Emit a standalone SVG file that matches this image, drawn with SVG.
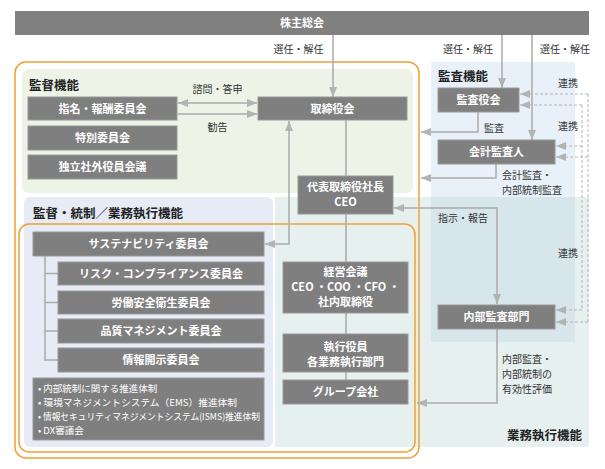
<svg xmlns="http://www.w3.org/2000/svg" width="605" height="469" viewBox="0 0 605 469">
<defs>
<style>
.box{fill:#7f7f7f;stroke:#9a9a9a;stroke-width:1}
.nt{font-family:"Noto Sans CJK JP","Noto Sans",sans-serif;font-size:11px;fill:#ffffff;text-anchor:middle;font-weight:bold}
.bt{font-family:"Noto Sans CJK JP","Noto Sans",sans-serif;font-size:9.5px;fill:#ffffff}
.lb{font-family:"Noto Sans CJK JP","Noto Sans",sans-serif;font-size:10px;fill:#333333}
.ttl{font-family:"Noto Sans CJK JP","Noto Sans",sans-serif;font-size:12.5px;fill:#222222;font-weight:bold}
.ln{fill:none;stroke:#aaaaaa;stroke-width:1.5}
.dl{fill:none;stroke:#b5b5b5;stroke-width:1;stroke-dasharray:3 2}
.or{fill:none;stroke:#f0a035;stroke-width:1.5}
</style>
<marker id="ah" markerUnits="userSpaceOnUse" markerWidth="10" markerHeight="8" viewBox="0 0 10 8" refX="10" refY="4" orient="auto-start-reverse">
<path d="M0,0 L10,4 L0,8 z" fill="#b3b3b3"/>
</marker>
</defs>
<rect width="605" height="469" fill="#ffffff"/>
<!-- regions -->
<g id="regions">
<rect x="22" y="69" width="391" height="124" rx="7" fill="#edf3e6"/>
<rect x="24" y="197" width="249" height="250" rx="6" fill="#e6ebf6"/>
<rect x="275" y="197" width="314" height="250" fill="#e6f0ee"/>
<rect x="431" y="62" width="144" height="135" fill="#e8f1f9"/>
<rect x="431" y="197" width="144" height="145" fill="#d6e6ea"/>
<rect x="15" y="62" width="404" height="396" rx="11" class="or"/>
<rect x="19" y="224" width="396" height="228" rx="10" class="or"/>
</g>
<!-- titles -->
<g id="titles">
<text class="ttl" x="29" y="90" font-size="13">監督機能</text>
<text class="ttl" x="33" y="218">監督・統制／業務執行機能</text>
<text class="ttl" x="438" y="81" font-size="13">監査機能</text>
<text class="ttl" x="582" y="440" text-anchor="end" font-size="13">業務執行機能</text>
</g>
<!-- connectors -->
<g id="connectors">
<path class="ln" d="M333,35 V97" marker-end="url(#ah)"/>
<path class="ln" d="M502,35 V88" marker-end="url(#ah)"/>
<path class="ln" d="M532,35 V140" marker-end="url(#ah)"/>
<path class="ln" d="M178,103 H257" marker-start="url(#ah)" marker-end="url(#ah)"/>
<path class="ln" d="M178,114 H257" marker-end="url(#ah)"/>
<path class="ln" d="M346,120 V176"/>
<path class="ln" d="M346,214 V262"/>
<path class="ln" d="M346,313 V334"/>
<path class="ln" d="M346,372 V380"/>
<path class="ln" d="M265,244 H289 V121" marker-start="url(#ah)" marker-end="url(#ah)"/>
<path class="ln" d="M478,112 V132 H421" marker-end="url(#ah)"/>
<path class="ln" d="M496,164 V178 H421" marker-end="url(#ah)"/>
<path class="ln" d="M394,208 H497 V304" marker-start="url(#ah)" marker-end="url(#ah)"/>
<path class="ln" d="M497,329 V403 H417" marker-end="url(#ah)"/>
<path class="ln" d="M45,256 V360 H58 M45,273.5 H58 M45,302.5 H58 M45,331 H58"/>
<path class="dl" d="M588,94 V322 M582,105 V310"/>
<path class="dl" d="M588,94 H520" marker-end="url(#ah)"/>
<path class="dl" d="M582,105 H520" marker-end="url(#ah)"/>
<path class="dl" d="M582,146 H556" marker-end="url(#ah)"/>
<path class="dl" d="M588,157 H556" marker-end="url(#ah)"/>
<path class="dl" d="M582,310 H556" marker-end="url(#ah)"/>
<path class="dl" d="M588,322 H556" marker-end="url(#ah)"/>
<text class="lb" x="298.5" y="53" text-anchor="middle">選任・解任</text>
<text class="lb" x="468" y="53" text-anchor="middle">選任・解任</text>
<text class="lb" x="565" y="53" text-anchor="middle">選任・解任</text>
<text class="lb" x="217.5" y="93" text-anchor="middle">諮問・答申</text>
<text class="lb" x="217.5" y="131" text-anchor="middle">勧告</text>
<text class="lb" x="484" y="132">監査</text>
<text class="lb" x="502" y="179">会計監査・</text>
<text class="lb" x="502" y="194">内部統制監査</text>
<text class="lb" x="438" y="222">指示・報告</text>
<text class="lb" x="502" y="363">内部監査・</text>
<text class="lb" x="502" y="378">内部統制の</text>
<text class="lb" x="502" y="393">有効性評価</text>
<text class="lb" x="568" y="87" text-anchor="middle">連携</text>
<text class="lb" x="568" y="130" text-anchor="middle">連携</text>
<text class="lb" x="568" y="257" text-anchor="middle">連携</text>
</g>
<!-- nodes -->
<g id="n-shareholders"><rect x="15" y="11" width="574" height="24" fill="#808080"/><text class="nt" x="302" y="27">株主総会</text></g>
<g id="n-nomination"><rect class="box" x="28" y="97" width="149" height="23"/><text class="nt" x="102.5" y="112.5">指名・報酬委員会</text></g>
<g id="n-special"><rect class="box" x="28" y="126" width="149" height="24"/><text class="nt" x="102.5" y="142">特別委員会</text></g>
<g id="n-independent"><rect class="box" x="28" y="155" width="149" height="24"/><text class="nt" x="102.5" y="171">独立社外役員会議</text></g>
<g id="n-board"><rect class="box" x="258" y="97" width="149" height="23"/><text class="nt" x="332.5" y="112.5">取締役会</text></g>
<g id="n-auditboard"><rect class="box" x="438" y="88" width="81" height="24"/><text class="nt" x="478.5" y="104">監査役会</text></g>
<g id="n-accountant"><rect class="box" x="438" y="140" width="117" height="24"/><text class="nt" x="496.5" y="156">会計監査人</text></g>
<g id="n-ceo"><rect class="box" x="298" y="176" width="95" height="38"/><text class="nt" x="345.5" y="191">代表取締役社長</text><text class="nt" x="345.5" y="206">CEO</text></g>
<g id="n-sustain"><rect class="box" x="33" y="232" width="231" height="24"/><text class="nt" x="148.5" y="248">サステナビリティ委員会</text></g>
<g id="n-risk"><rect class="box" x="58" y="262" width="206" height="23"/><text class="nt" x="161" y="277.5">リスク・コンプライアンス委員会</text></g>
<g id="n-safety"><rect class="box" x="58" y="291" width="206" height="23"/><text class="nt" x="161" y="306.5">労働安全衛生委員会</text></g>
<g id="n-quality"><rect class="box" x="58" y="319" width="206" height="24"/><text class="nt" x="161" y="335">品質マネジメント委員会</text></g>
<g id="n-disclosure"><rect class="box" x="58" y="348" width="206" height="24"/><text class="nt" x="161" y="364">情報開示委員会</text></g>
<g id="n-systems"><rect class="box" x="33" y="378" width="231" height="62"/>
<text class="bt" x="38" y="391.5">• 内部統制に関する推進体制</text>
<text class="bt" x="38" y="405.5" textLength="199" lengthAdjust="spacingAndGlyphs">• 環境マネジメントシステム（EMS）推進体制</text>
<text class="bt" x="38" y="419.5" textLength="222" lengthAdjust="spacingAndGlyphs">• 情報セキュリティマネジメントシステム(ISMS)推進体制</text>
<text class="bt" x="38" y="433.5">• DX審議会</text></g>
<g id="n-mgmt"><rect class="box" x="283" y="262" width="125" height="51"/><text class="nt" x="345.5" y="276">経営会議</text><text class="nt" x="345.5" y="291">CEO ・COO ・CFO ・</text><text class="nt" x="345.5" y="306">社内取締役</text></g>
<g id="n-officers"><rect class="box" x="283" y="334" width="125" height="38"/><text class="nt" x="345.5" y="351">執行役員</text><text class="nt" x="345.5" y="366">各業務執行部門</text></g>
<g id="n-group"><rect class="box" x="283" y="380" width="125" height="24"/><text class="nt" x="345.5" y="396">グループ会社</text></g>
<g id="n-internalaudit"><rect class="box" x="438" y="305" width="117" height="24"/><text class="nt" x="496.5" y="321">内部監査部門</text></g>
</svg>
